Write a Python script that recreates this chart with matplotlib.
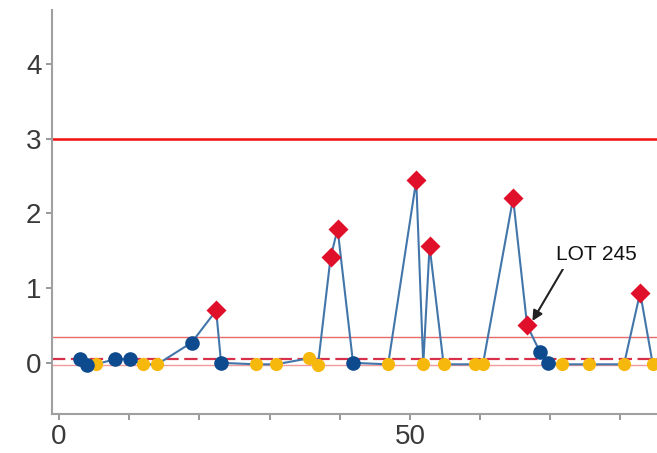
import matplotlib
matplotlib.use("Agg")
import matplotlib.pyplot as plt
import numpy as np

plt.rcParams['font.family'] = ['Liberation Sans', 'DejaVu Sans']

# data (lot index, value, status)
lot_x = [3.0, 4.0, 5.3, 8.0, 10.1, 12.0, 14.0, 18.9, 22.4, 23.1, 28.1, 30.9,
         35.6, 36.9, 38.7, 39.7, 41.9, 46.9, 50.9, 51.9, 52.8, 54.8, 59.3,
         60.4, 64.7, 66.7, 68.5, 69.7, 71.7, 75.5, 80.5, 82.8, 84.6]
lot_y = [0.05, -0.03, -0.02, 0.05, 0.05, -0.02, -0.02, 0.27, 0.70, 0.0, -0.02, -0.02,
         0.06, -0.03, 1.41, 1.79, 0.0, -0.02, 2.44, -0.02, 1.56, -0.02, -0.02,
         -0.02, 2.20, 0.50, 0.15, 0.0, -0.02, -0.02, -0.02, 0.94, -0.02]
status = ['b', 'b', 'y', 'b', 'b', 'y', 'y', 'b', 'r', 'b', 'y', 'y',
          'y', 'y', 'r', 'r', 'b', 'y', 'r', 'y', 'r', 'y', 'y',
          'y', 'r', 'r', 'b', 'b', 'y', 'y', 'y', 'r', 'y']
ucl = 3.0
warn = 0.35
center = 0.05
lower = -0.03
y_ticks = [0, 1, 2, 3, 4]
x_ticks_major = [0, 50]
annot_text = "LOT 245"
annot_idx = 25

fig = plt.figure(figsize=(6.57, 4.53), dpi=100)
ax = fig.add_axes([0.079, 0.086, 0.921, 0.892])
ax.set_xlim(-1, 85.2)
ax.set_ylim(-0.685, 4.72)

ax.axhline(ucl, color='#f01010', lw=1.8, zorder=1)
ax.axhline(warn, color='#e86a6a', lw=1.0, zorder=1)
ax.axhline(lower, color='#f29a9a', lw=1.0, zorder=1)
ax.axhline(center, color='#d8304a', lw=1.6, ls=(0, (6, 2.5)), zorder=1)

x = np.array(lot_x)
y = np.array(lot_y)
st = np.array(status)
ax.plot(x, y, color='#4276aa', lw=1.5, zorder=2)

m = st == 'y'
ax.plot(x[m], y[m], 'o', color='#f6b80c', ms=9.5, mec='none', zorder=3)
m = st == 'b'
ax.plot(x[m], y[m], 'o', color='#0d4b8e', ms=10.5, mec='none', zorder=4)
m = st == 'r'
ax.plot(x[m], y[m], 'D', color='#e0102a', ms=10, mec='none', zorder=5)

ax.annotate(annot_text, xy=(lot_x[annot_idx] + 0.75, lot_y[annot_idx] + 0.06),
            xytext=(76.6, 1.45), ha='center', va='center', fontsize=15,
            color='#111111',
            bbox=dict(boxstyle='square,pad=0.25', fc='white', ec='none'),
            arrowprops=dict(arrowstyle='-|>', color='#222222', lw=1.5,
                            mutation_scale=15, shrinkA=0, shrinkB=0,
                            relpos=(0.12, 0.0)),
            zorder=6)

for s in ['top', 'right']:
    ax.spines[s].set_visible(False)
for s in ['left', 'bottom']:
    ax.spines[s].set_color('#a0a0a0')
    ax.spines[s].set_linewidth(1.5)

ax.set_yticks(y_ticks)
ax.set_xticks(x_ticks_major)
ax.set_xticks(np.arange(0, 90, 10), minor=True)
ax.tick_params(axis='both', which='both', colors='#888888', length=4, width=1.2,
               labelcolor='#3a3a3a', labelsize=20)
ax.tick_params(axis='x', which='minor', length=4)

fig.savefig('out.png', dpi=100)
